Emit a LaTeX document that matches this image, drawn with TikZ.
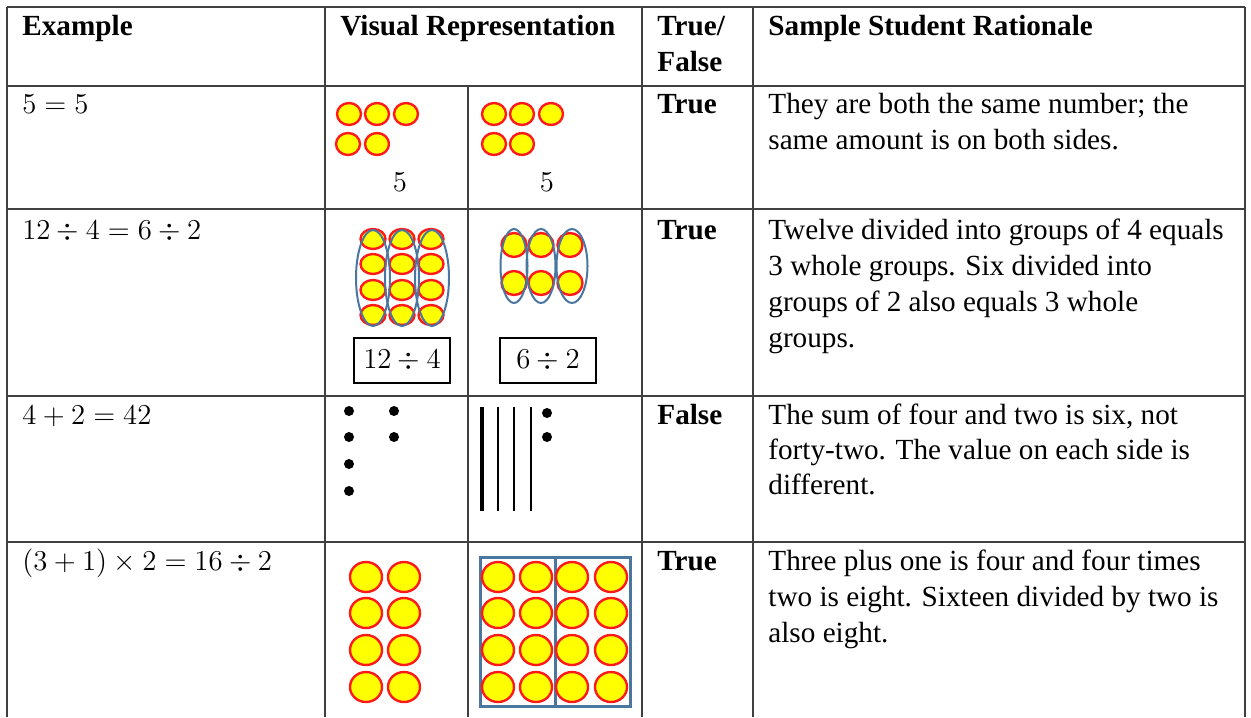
\documentclass[tikz,border=0pt]{standalone}
\usepackage{fontspec}
\setmainfont{Liberation Serif}
\definecolor{cnty}{HTML}{FFFF00}
\definecolor{cntr}{HTML}{FF1A1A}
\definecolor{grpblue}{HTML}{4A76A0}
\definecolor{gridc}{HTML}{404040}
\tikzset{
  gridline/.style={line width=1pt, draw=gridc},
  txt/.style={anchor=base west, inner sep=0pt, font=\fontsize{14.6}{18}\selectfont},
  hdr/.style={anchor=base west, inner sep=0pt, font=\fontsize{14.6}{18}\selectfont\bfseries},
  cnt/.style={fill=cnty, draw=cntr, line width=1.2pt},
  grp/.style={draw=grpblue, line width=1pt},
  dotc/.style={fill=black},
  tally/.style={line width=1.3pt},
  lblbox/.style={draw=black, line width=1pt, minimum width=48pt, minimum height=22.5pt, inner sep=0pt, font=\fontsize{14.6}{18}\selectfont}
}
\begin{document}
\begin{tikzpicture}[x=0.5pt,y=-0.5pt]
\useasboundingbox (0,0) rectangle (1251,717);
% grid
\draw[gridline] (7,7) -- (1245,7);
\draw[gridline] (7,86) -- (1245,86);
\draw[gridline] (7,209) -- (1245,209);
\draw[gridline] (7,396) -- (1245,396);
\draw[gridline] (7,542) -- (1245,542);
\draw[gridline] (7,7) -- (7,717);
\draw[gridline] (325,7) -- (325,717);
\draw[gridline] (468,86) -- (468,717);
\draw[gridline] (642,7) -- (642,717);
\draw[gridline] (753,7) -- (753,717);
\draw[gridline] (1245,7) -- (1245,717);
% header
\node[hdr] (h1) at (22,36) {Example};
\node[hdr] (h2) at (340,36) {Visual Representation};
\node[hdr] (h3) at (657,36) {True/};
\node[hdr] (h3b) at (657,72) {False};
\node[hdr] (h4) at (768,36) {Sample Student Rationale};
% row 1
\node[txt] (e1) at (22,113) {$5=5$};
\node[hdr] (t1) at (657,113) {True};
\node[txt] (r1a) at (768,113) {They are both the same number; the};
\node[txt] (r1b) at (768,149) {same amount is on both sides.};
\foreach \x/\y in {349/114,377/114,406/114,348/144,377/144}
  \draw[cnt] (\x,\y) ellipse [x radius=12, y radius=11];
\foreach \x/\y in {494/114,522/114,551/114,494/144,522/144}
  \draw[cnt] (\x,\y) ellipse [x radius=12, y radius=11];
\node[txt,anchor=center] (f1) at (400,182) {$5$};
\node[txt,anchor=center] (f2) at (547,182) {$5$};
% row 2
\node[txt] (e2) at (22,239) {$12\div4=6\div2$};
\node[hdr] (t2) at (657,239) {True};
\node[txt] (r2a) at (768,239) {Twelve divided into groups of 4 equals};
\node[txt] (r2b) at (768,275) {3 whole groups. Six divided into};
\node[txt] (r2c) at (768,311) {groups of 2 also equals 3 whole};
\node[txt] (r2d) at (768,347) {groups.};
\foreach \x in {373,402,431}
  \foreach \y in {239,264,290,315}
    \draw[cnt] (\x,\y) ellipse [x radius=12.5, y radius=10];
\foreach \x in {373,402,432}
  \draw[grp] (\x,278) ellipse [x radius=17, y radius=48];
\foreach \x in {514,541,570}
  \foreach \y in {245,283}
    \draw[cnt] (\x,\y) ellipse [x radius=12.5, y radius=12];
\draw[grp] (514,266) ellipse [x radius=13.5, y radius=37];
\draw[grp] (541,266) ellipse [x radius=14.5, y radius=37];
\draw[grp] (572,266) ellipse [x radius=15.5, y radius=37];
\node[lblbox] (b1) at (402,360) {$12\div4$};
\node[lblbox] (b2) at (548,360) {$6\div2$};
% row 3
\node[txt] (e3) at (22,424) {$4+2=42$};
\node[hdr] (t3) at (657,424) {False};
\node[txt] (r3a) at (768,424) {The sum of four and two is six, not};
\node[txt] (r3b) at (768,459) {forty-two. The value on each side is};
\node[txt] (r3c) at (768,494) {different.};
\foreach \x/\y in {349/411,349/437,349/464,349/491,394/411,394/437,547/413,547/437}
  \fill[dotc] (\x,\y) circle [radius=5];
\draw[tally,line width=1.6pt] (482,407) -- (482,511);
\foreach \x in {498,514,531}
  \draw[tally] (\x,407) -- (\x,511);
% row 4
\node[txt] (e4) at (22,570) {$(3+1)\times2=16\div2$};
\node[hdr] (t4) at (657,570) {True};
\node[txt] (r4a) at (768,570) {Three plus one is four and four times};
\node[txt] (r4b) at (768,606) {two is eight. Sixteen divided by two is};
\node[txt] (r4c) at (768,642) {also eight.};
\foreach \x in {366,404}
  \foreach \y in {577,613,650,687}
    \draw[cnt] (\x,\y) ellipse [x radius=16, y radius=15];
\draw[grp,line width=1.5pt] (480,557) rectangle (630,706);
\draw[grp,line width=1.5pt] (555,557) -- (555,706);
\foreach \x in {498,536,572,611}
  \foreach \y in {577,613,650,687}
    \draw[cnt] (\x,\y) ellipse [x radius=16, y radius=15];
\end{tikzpicture}
\end{document}
